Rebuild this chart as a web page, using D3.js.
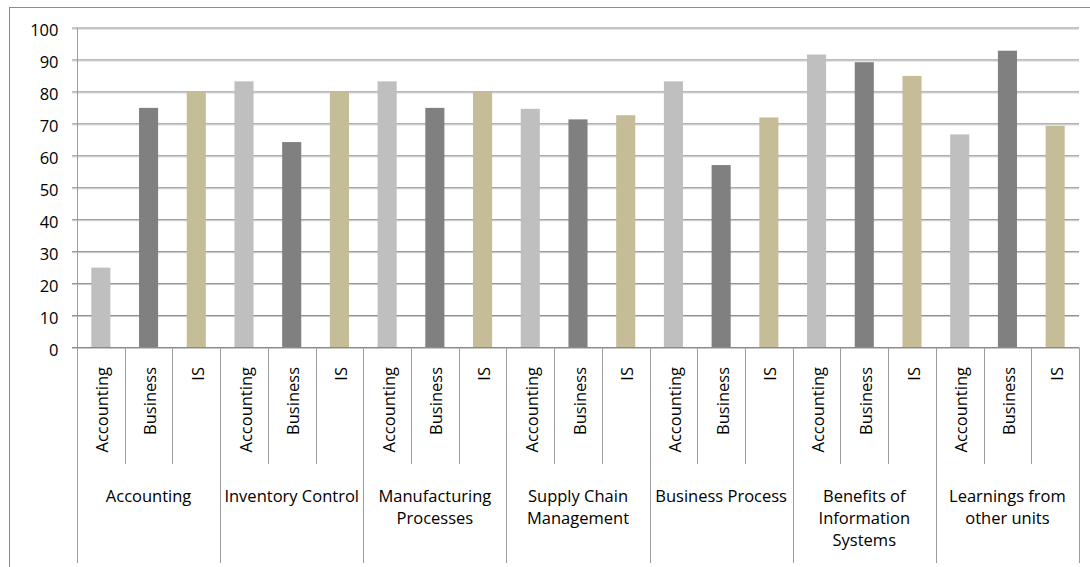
<!DOCTYPE html>
<html>
<head>
<meta charset="utf-8">
<script src="https://cdn.jsdelivr.net/npm/d3@7"></script>
<style>
  html, body { margin: 0; padding: 0; background: #fff; }
  svg { display: block; }
  text { font-family: "Open Sans", "Noto Sans", sans-serif; fill: #000; }
</style>
</head>
<body>
<svg id="chart" width="1090" height="567"></svg>
<script>
// ---- data ----
const groups = ["Accounting", "Inventory Control", "Manufacturing Processes", "Supply Chain Management",
                "Business Process", "Benefits of Information Systems", "Learnings from other units"];
const groupLabelLines = [["Accounting"], ["Inventory Control"], ["Manufacturing", "Processes"],
                         ["Supply Chain", "Management"], ["Business Process"],
                         ["Benefits of", "Information", "Systems"], ["Learnings from", "other units"]];
const series = ["Accounting", "Business", "IS"];
const accountingValues = [25, 83.3, 83.3, 74.7, 83.3, 91.7, 66.7];
const businessValues   = [75, 64.3, 75, 71.4, 57.1, 89.3, 92.9];
const isValues         = [80, 80, 80, 72.7, 72, 85, 69.4];
const yTicks = [0, 10, 20, 30, 40, 50, 60, 70, 80, 90, 100];
const seriesColors = ["#bfbfbf", "#808080", "#c4bd97"];

const valuesBySeries = [accountingValues, businessValues, isValues];
const rows = [];
groups.forEach((g, gi) => series.forEach((s, si) => rows.push({group: g, gi, series: s, si, value: valuesBySeries[si][gi]})));

// ---- layout ----
const svg = d3.select("#chart");
const plotLeft = 77, plotRight = 1079, plotTop = 28, plotBottom = 347.5;
const subBottom = 464, groupBottom = 563;

// outer border
svg.append("rect").attr("x", 9.5).attr("y", 7.5).attr("width", 1200).attr("height", 700)
  .attr("fill", "none").attr("stroke", "#8c8c8c").attr("stroke-width", 1);

const x0 = d3.scaleBand().domain(groups).range([plotLeft, plotRight]).padding(0);
const x1 = d3.scaleBand().domain(series).range([0, x0.bandwidth()]).padding(0);
const y = d3.scaleLinear().domain([0, 100]).range([plotBottom, plotTop]);

// gridlines + y axis
const yAxis = d3.axisLeft(y).tickValues(yTicks).tickSize(-(plotRight - plotLeft)).tickPadding(0).tickFormat(d3.format("d"));
const ga = svg.append("g").attr("transform", `translate(${plotLeft},0)`).call(yAxis);
ga.select(".domain").remove();
ga.selectAll(".tick line").attr("x1", -5).attr("stroke", "#8a8a8a").attr("stroke-width", 1)
  .attr("transform", "translate(0,-0.5)");
ga.selectAll(".tick").append("line").attr("x1", -5).attr("x2", plotRight - plotLeft)
  .attr("y1", 0.5).attr("y2", 0.5).attr("stroke", "#c8c8c8").attr("stroke-width", 1);
ga.selectAll(".tick text").attr("x", -18.5).attr("dy", "0.36em").attr("y", 2)
  .style("font-size", "16.5px").style("font-family", "'Open Sans', sans-serif").attr("fill", "#000");

// bars
const barFrac = 0.4;
svg.append("g").selectAll("rect").data(rows).join("rect")
  .attr("x", d => x0(d.group) + x1(d.series) + x1.bandwidth() * (1 - barFrac) / 2)
  .attr("width", x1.bandwidth() * barFrac)
  .attr("y", d => y(d.value))
  .attr("height", d => y(0) - y(d.value))
  .attr("fill", (d) => seriesColors[d.si]);

// category axis lines
const lineColor = "#9c9c9c";
svg.append("line").attr("x1", plotLeft - 5).attr("x2", plotRight).attr("y1", plotBottom).attr("y2", plotBottom)
  .attr("stroke", "#8a8a8a");
// y axis line
svg.append("line").attr("x1", plotLeft + 0.5).attr("x2", plotLeft + 0.5).attr("y1", plotTop).attr("y2", plotBottom)
  .attr("stroke", lineColor);

// sub dividers
const subDividers = rows.filter(d => d.si > 0);
svg.append("g").selectAll("line").data(subDividers).join("line")
  .attr("x1", d => Math.round(x0(d.group) + x1(d.series)) + 0.5)
  .attr("x2", d => Math.round(x0(d.group) + x1(d.series)) + 0.5)
  .attr("y1", plotBottom).attr("y2", subBottom).attr("stroke", lineColor);
// group dividers
svg.append("g").selectAll("line").data(groups.concat(["__end"])).join("line")
  .attr("x1", (d, i) => Math.round(i < groups.length ? x0(d) : plotRight) + 0.5)
  .attr("x2", (d, i) => Math.round(i < groups.length ? x0(d) : plotRight) + 0.5)
  .attr("y1", plotBottom).attr("y2", groupBottom).attr("stroke", lineColor);

// sub labels (rotated)
svg.append("g").selectAll("text").data(rows).join("text")
  .attr("transform", d => `translate(${x0(d.group) + x1(d.series) + x1.bandwidth() / 2 + 1},367) rotate(-90)`)
  .attr("text-anchor", "end").attr("dominant-baseline", "central")
  .style("font-size", "16.5px")
  .text(d => d.series);

// group labels
const gl = svg.append("g").selectAll("text").data(groups).join("text")
  .attr("x", d => x0(d) + x0.bandwidth() / 2)
  .attr("y", 502)
  .attr("text-anchor", "middle")
  .style("font-size", "16.5px");
gl.selectAll("tspan").data((d, i) => groupLabelLines[i]).join("tspan")
  .attr("x", function() { return this.parentNode.getAttribute("x"); })
  .attr("dy", (d, i) => i === 0 ? 0 : 22)
  .text(d => d);
</script>
</body>
</html>
